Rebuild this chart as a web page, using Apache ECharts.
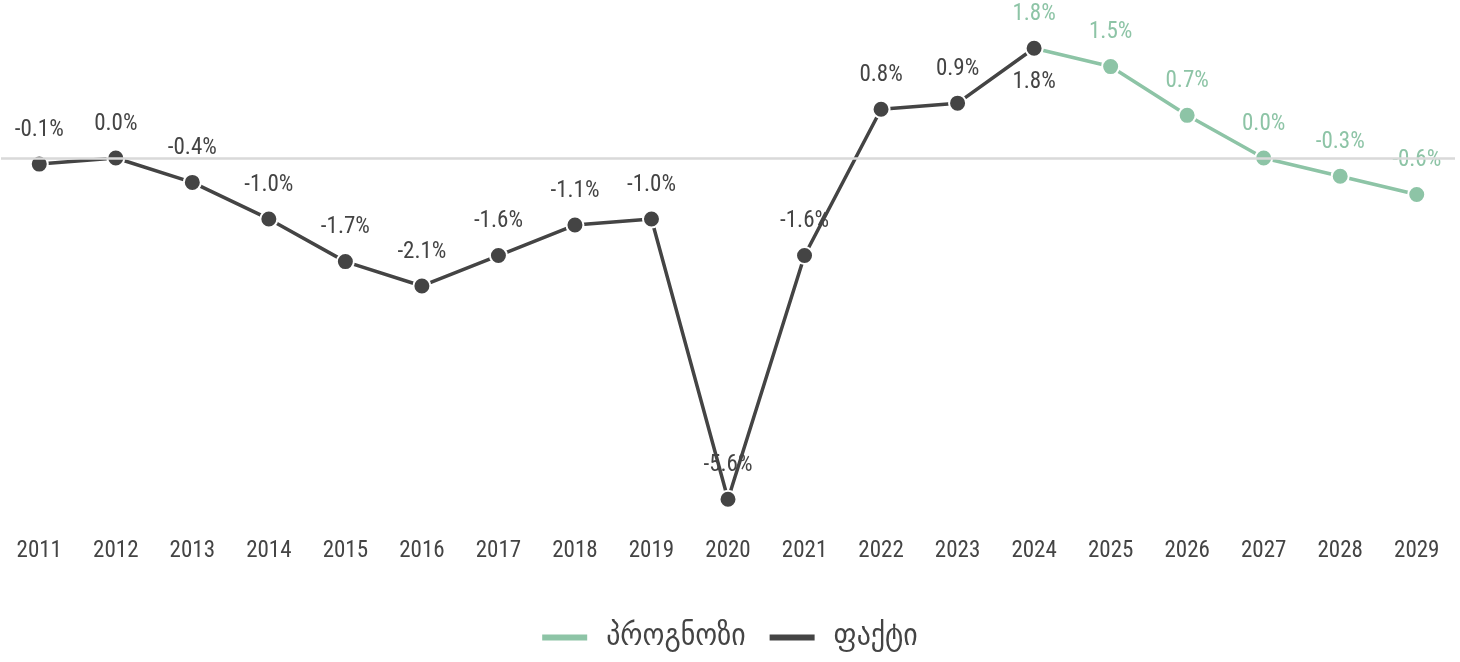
<!DOCTYPE html>
<html>
<head>
<meta charset="utf-8">
<script src="https://cdn.jsdelivr.net/npm/echarts@6/dist/echarts.min.js"></script>
<style>
html,body{margin:0;padding:0;background:#fff;}
#chart{width:1460px;height:662px;}
</style>
</head>
<body>
<div id="chart"></div>
<script>
const years = ['2011','2012','2013','2014','2015','2016','2017','2018','2019','2020','2021','2022','2023','2024','2025','2026','2027','2028','2029'];
const factValues = [-0.1, 0.0, -0.4, -1.0, -1.7, -2.1, -1.6, -1.1, -1.0, -5.6, -1.6, 0.8, 0.9, 1.8, null, null, null, null, null];
const forecastValues = [null, null, null, null, null, null, null, null, null, null, null, null, null, 1.8, 1.5, 0.7, 0.0, -0.3, -0.6];
const seriesNames = ['პროგნოზი', 'ფაქტი'];

const FONT = "'Liberation Sans Narrow', 'Roboto Condensed', 'DejaVu Sans Condensed', sans-serif";
const DARK = '#444444';
const GREEN = '#8dc4a6';
const fmt = p => (p.value == null ? '' : p.value.toFixed(1) + '%');

const factData = factValues.map((v, i) => i === 13 ? { value: v, label: { position: 'bottom' } } : v);

const chart = echarts.init(document.getElementById('chart'));
chart.setOption({
  animation: false,
  backgroundColor: '#fff',
  textStyle: { fontFamily: FONT },
  grid: { left: 1, right: 5, top: 36.1, height: 487.6, containLabel: false },
  xAxis: {
    type: 'category',
    data: years,
    boundaryGap: true,
    axisLine: { show: false },
    axisTick: { show: false },
    axisLabel: { color: DARK, fontSize: 23, fontFamily: FONT, margin: 16 }
  },
  yAxis: {
    type: 'value', min: -6, max: 2, interval: 2,
    show: false, splitLine: { show: false }
  },
  legend: {
    bottom: 4,
    left: 'center',
    itemWidth: 45, itemHeight: 6, itemGap: 24,
    itemStyle: { borderWidth: 0 },
    textStyle: { color: DARK, fontSize: 31, fontFamily: FONT, padding: [0, 0, 0, 14] },
    data: [
      { name: seriesNames[0], icon: 'rect', itemStyle: { color: GREEN, borderWidth: 0 } },
      { name: seriesNames[1], icon: 'rect', itemStyle: { color: DARK, borderWidth: 0 } }
    ]
  },
  series: [
    {
      name: seriesNames[0],
      type: 'line',
      data: forecastValues,
      color: GREEN,
      lineStyle: { width: 3.5, color: GREEN },
      symbol: 'circle', symbolSize: 17,
      itemStyle: { color: GREEN, borderColor: '#fff', borderWidth: 2 },
      label: { show: true, position: 'top', distance: 13, color: GREEN, fontSize: 23, fontFamily: FONT, formatter: fmt },
      markLine: {
        silent: true, symbol: 'none', label: { show: false },
        lineStyle: { color: '#d9d9d9', width: 2.5, type: 'solid' },
        data: [{ yAxis: 0 }]
      },
      z: 2
    },
    {
      name: seriesNames[1],
      type: 'line',
      data: factData,
      color: DARK,
      lineStyle: { width: 3.5, color: DARK },
      symbol: 'circle', symbolSize: 17,
      itemStyle: { color: DARK, borderColor: '#fff', borderWidth: 2 },
      label: { show: true, position: 'top', distance: 13, color: DARK, fontSize: 23, fontFamily: FONT, formatter: fmt },
      z: 3
    }
  ]
});
</script>
</body>
</html>
